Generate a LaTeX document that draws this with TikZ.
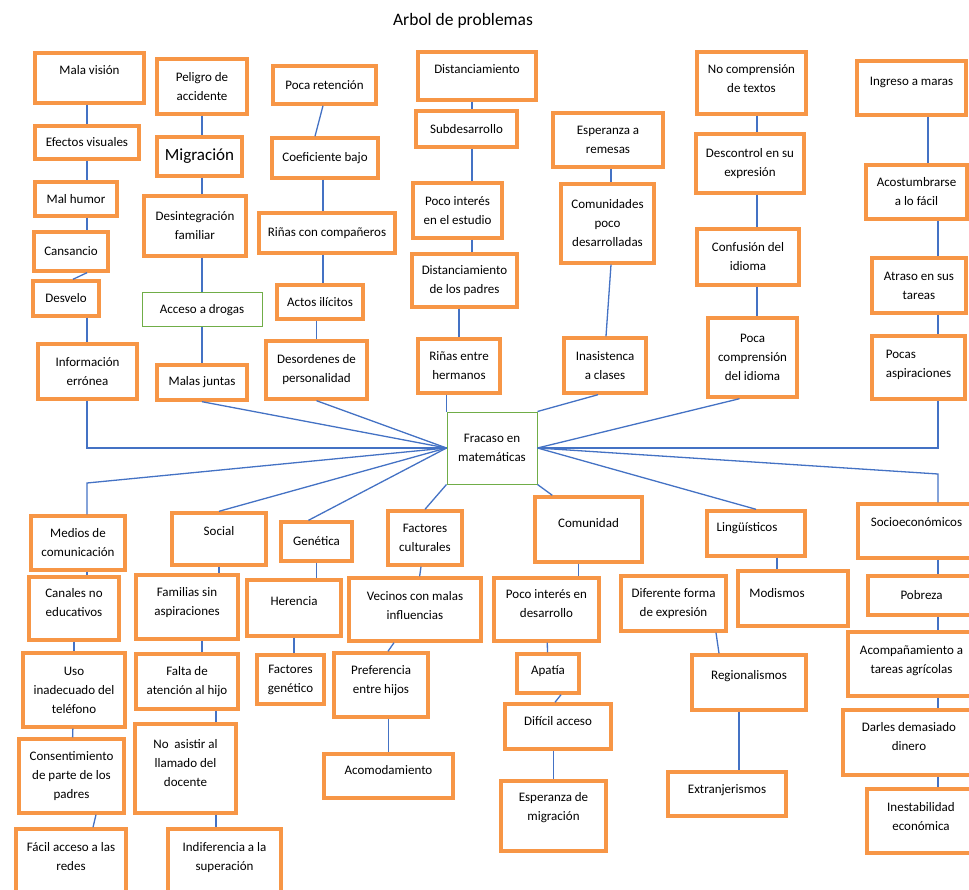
\documentclass[tikz,border=0pt]{standalone}
\usepackage{fontspec}
\setmainfont{Carlito}
\definecolor{naranja}{RGB}{247,150,70}
\definecolor{azul}{RGB}{68,114,196}
\definecolor{verdeb}{RGB}{112,173,71}
% caja[opciones]{nombre}{x1}{y1}{x2}{y2}{texto}
\newcommand{\caja}[7][]{\node[caja,minimum width={#5-#3},minimum height={#6-#4},#1] (#2) at ({(#3+#5)/2},{(#4+#6)/2}) {#7};}
\newcommand{\bajo}[1]{\\[#1]\mbox{}}

\begin{document}
\begin{tikzpicture}[x=1pt,y=-1pt,
    caja/.style={draw=naranja,line width=3.4pt,fill=white,inner sep=1pt,align=center,
      font=\fontsize{13}{19}\selectfont},
    verde/.style={draw=verdeb,line width=1pt},
    linea/.style={draw=azul,line width=1.3pt}]
\useasboundingbox (0,0) rectangle (969,890);
\clip (0,0) rectangle (969,890);

\node[font=\fontsize{17.5}{20}\selectfont] (titulo) at (463,21) {Arbol de problemas};

% ejes de las columnas
\coordinate (ejeA) at (87,0);
\coordinate (ejeB) at (202,0);
\coordinate (ejeC) at (323,0);
\coordinate (ejeD) at (472,0);
\coordinate (ejeE) at (611,0);
\coordinate (ejeF) at (757,0);
\coordinate (ejeG) at (938,0);
\coordinate (ejeH) at (216,0);

% arriba
\caja{mala}{35}{53}{144}{103}{Mala visión\bajo{-3pt}}
\caja{efectos}{35}{126}{139}{159}{Efectos visuales}
\caja{malhumor}{35}{182}{117}{216}{Mal humor}
\caja{cansancio}{34}{232}{108}{271}{Cansancio}
\caja{desvelo}{33}{281}{99}{316}{Desvelo}
\caja{info}{38}{344}{137}{399}{Información\\errónea}

\caja{peligro}{157}{59}{247}{114}{Peligro de\\accidente}
\caja[font=\fontsize{17}{20}\selectfont]{migracion}{157}{137}{242}{176}{Migración}
\caja{desint}{144}{196}{246}{256}{Desintegración\\familiar}
\caja[verde]{drogas}{142}{293}{262}{327}{Acceso a drogas}
\caja{malas}{157}{365}{247}{400}{Malas juntas}

\caja{retencion}{273}{66}{376}{104}{Poca retención}
\caja{coef}{272}{138}{378}{178}{Coeficiente bajo}
\caja{rinasc}{259}{213}{395}{253}{Riñas con compañeros}
\caja{actos}{277}{285}{363}{319}{Actos ilícitos}
\caja{desord}{266}{341}{367}{399}{Desordenes de\\personalidad}

\caja{distan}{418}{52}{536}{100}{Distanciamiento\bajo{-5pt}}
\caja{subdes}{416}{111}{517}{147}{Subdesarrollo}
\caja{interes}{413}{183}{502}{238}{Poco interés\\en el estudio}
\caja{padres}{412}{254}{517}{307}{Distanciamiento\\de los padres}
\caja{rinash}{418}{339}{500}{393}{Riñas entre\\hermanos}

\caja{remesas}{553}{113}{663}{167}{Esperanza a\\remesas}
\caja{comun}{561}{184}{654}{263}{Comunidades\\poco\\desarrolladas}
\caja{inasist}{564}{338}{646}{393}{Inasistenca\\a clases}

\caja{textos}{697}{52}{806}{114}{No comprensión\\de textos\bajo{-11pt}}
\caja{descontrol}{696}{134}{804}{193}{Descontrol en su\\expresión}
\caja{confusion}{697}{229}{799}{285}{Confusión del\\idioma}
\caja{pocacomp}{708}{318}{797}{397}{Poca\\comprensión\\del idioma}

\caja{maras}{857}{61}{966}{115}{Ingreso a maras\bajo{-5pt}}
\caja{acost}{866}{165}{967}{219}{Acostumbrarse\\a lo fácil}
\caja{atraso}{872}{258}{966}{313}{Atraso en sus\\tareas}
\caja[align=left]{pocas}{872}{336}{965}{399}{Pocas\\aspiraciones\bajo{-11pt}}

\caja[verde]{fracaso}{447}{412}{537}{484}{Fracaso en\\matemáticas}

% abajo
\caja{medios}{31}{516}{125}{570}{Medios de\\comunicación}
\caja{canales}{29}{577}{119}{640}{Canales no\\educativos\bajo{-7pt}}
\caja{uso}{23}{653}{125}{727}{Uso\\inadecuado del\\teléfono}
\caja{consent}{19}{739}{124}{813}{Consentimiento\\de parte de los\\padres}
\caja{facil}{16}{829}{126}{900}{Fácil acceso a las\\redes\bajo{-2pt}}

\caja{social}{172}{513}{266}{565}{Social\bajo{-3pt}}
\caja{familias}{136}{575}{238}{639}{Familias sin\\aspiraciones\bajo{-7pt}}
\caja{falta}{136}{654}{238}{709}{Falta de\\atención al hijo}
\caja{noasistir}{135}{724}{236}{813}{No~ asistir al\\llamado del\\docente\bajo{-7pt}}
\caja{indif}{168}{829}{281}{900}{Indiferencia a la\\superación\bajo{-2pt}}

\caja{genetica}{281}{522}{352}{561}{Genética}
\caja{herencia}{247}{580}{341}{636}{Herencia\bajo{-5pt}}
\caja{factgen}{257}{655}{324}{704}{Factores\\genético}

\caja{cultural}{388}{511}{462}{565}{Factores\\culturales}
\caja{vecinos}{349}{578}{481}{641}{Vecinos con malas\\influencias\bajo{-11pt}}
\caja{prefer}{334}{653}{428}{717}{Preferencia\\entre hijos\bajo{-9pt}}
\caja{acomod}{324}{754}{453}{798}{Acomodamiento\bajo{-7pt}}

\caja{comunidad}{535}{497}{642}{562}{Comunidad\bajo{-5pt}}
\caja{desarrollo}{494}{578}{599}{641}{Poco interés en\\desarrollo\bajo{-7pt}}
\caja{apatia}{517}{654}{579}{693}{Apatía\bajo{-13pt}}
\caja{dificil}{505}{704}{611}{749}{Difícil acceso\bajo{-7pt}}
\caja{migrac}{501}{781}{606}{851}{Esperanza de\\migración\bajo{1pt}}

\caja{ling}{707}{511}{805}{556}{Lingüísticos\hspace*{18pt}\bajo{-7pt}}
\caja{modismos}{738}{571}{848}{626}{Modismos\hspace*{32pt}\bajo{-7pt}}
\caja{diferente}{621}{576}{726}{631}{Diferente forma\\de expresión}
\caja{regional}{692}{655}{806}{710}{Regionalismos\bajo{-3pt}}
\caja{extranj}{668}{772}{786}{816}{Extranjerismos\bajo{-9pt}}

\caja{socio}{858}{504}{975}{558}{Socioeconómicos\bajo{-1pt}}
\caja{pobreza}{868}{576}{975}{615}{Pobreza}
\caja{acomp}{848}{632}{975}{696}{Acompañamiento a\\tareas agrícolas\bajo{-11pt}}
\caja{darles}{843}{710}{975}{775}{Darles demasiado\\dinero\bajo{-7pt}}
\caja{inestab}{867}{789}{975}{853}{Inestabilidad\\económica\bajo{-9pt}}

\coordinate (codoM) at (87,483);
\coordinate (codoS) at (938,474);

% ramas de arriba
\draw[linea] (mala.south -| ejeA) -- (efectos.north -| ejeA);
\draw[linea] (efectos.south -| ejeA) -- (malhumor.north -| ejeA);
\draw[linea] (malhumor.south -| ejeA) -- (cansancio.north -| ejeA);
\draw[linea] ([xshift=16]cansancio.south) -- ([xshift=7]desvelo.north);
\draw[linea] (desvelo.south -| ejeA) -- (info.north -| ejeA);

\draw[linea] (peligro.south -| ejeB) -- (migracion.north -| ejeB);
\draw[linea] (migracion.south -| ejeB) -- (desint.north -| ejeB);
\draw[linea] (desint.south -| ejeB) -- (drogas.north -| ejeB);
\draw[linea] (drogas.south -| ejeB) -- (malas.north -| ejeB);

\draw[linea] ([xshift=-1.5]retencion.south) -- ([xshift=-10]coef.north);
\draw[linea] (coef.south -| ejeC) -- (rinasc.north -| ejeC);
\draw[linea] (rinasc.south -| ejeC) -- (actos.north -| ejeC);
\draw[linea] (actos.south -| desord) -- (desord.north);

\draw[linea] (distan.south -| ejeD) -- (subdes.north -| ejeD);
\draw[linea] (subdes.south -| ejeD) -- (interes.north -| ejeD);
\draw[linea] (interes.south -| ejeD) -- (padres.north -| ejeD);
\draw[linea] (padres.south -| rinash) -- (rinash.north);

\draw[linea] (remesas.south -| ejeE) -- (comun.north -| ejeE);
\draw[linea] (comun.south -| ejeE) -- ([xshift=1]inasist.north);

\draw[linea] (textos.south -| ejeF) -- (descontrol.north -| ejeF);
\draw[linea] (descontrol.south -| ejeF) -- (confusion.north -| ejeF);
\draw[linea] (confusion.south -| ejeF) -- (pocacomp.north -| ejeF);

\draw[linea] ([xshift=16.5]maras.south) -- ([xshift=16.5]maras.south |- acost.north);
\draw[linea] (acost.south -| ejeG) -- (atraso.north -| ejeG);
\draw[linea] (atraso.south -| ejeG) -- (pocas.north -| ejeG);

% al problema central
\draw[linea] (info.south -| ejeA) |- (fracaso.west);
\draw[linea] (malas.south) -- (fracaso.west);
\draw[linea] (desord.south) -- (fracaso.west);
\draw[linea] (rinash.south -| fracaso.north west) -- (fracaso.north west);
\draw[linea] ([xshift=-7]inasist.south) -- (fracaso.north east);
\draw[linea] ([xshift=-13]pocacomp.south) -- (fracaso.east);
\draw[linea] (pocas.south -| ejeG) |- (fracaso.east);

\draw[linea] (fracaso.west) -- (codoM) -- (codoM |- medios.north);
\draw[linea] (fracaso.west) -- (social.north);
\draw[linea] (fracaso.west) -- ([xshift=-8]genetica.north);
\draw[linea] (fracaso.south west) -- (cultural.north);
\draw[linea] (fracaso.south east) -- ([xshift=19]comunidad.north west);
\draw[linea] (fracaso.east) -- (ling.north);
\draw[linea] (fracaso.east) -- (codoS) -- (codoS |- socio.north);

% ramas de abajo
\draw[linea] (medios.south -| ejeA) -- (canales.north -| ejeA);
\draw[linea] (canales) -- (uso);
\draw[linea] (uso) -- (consent);
\draw[linea] ([xshift=24.5]consent.south) -- ([xshift=22]facil.north);

\draw[linea] (social.south) -- (social.south |- familias.north);
\draw[linea] (familias.south -| ejeB) -- (falta.north -| ejeB);
\draw[linea] (falta.south -| ejeH) -- (noasistir.north -| ejeH);
\draw[linea] (noasistir.south -| ejeH) -- (indif.north -| ejeH);

\draw[linea] (genetica.south) -- (genetica.south |- herencia.north);
\draw[linea] (herencia.south) -- (herencia.south |- factgen.north);

\draw[linea] (cultural) -- (vecinos);
\draw[linea] ([xshift=-21]vecinos.south) -- ([xshift=7]prefer.north);
\draw[linea] (prefer.south -| acomod) -- (acomod.north);

\draw[linea] ([xshift=-10]comunidad.south) -- ([xshift=-10]comunidad.south |- desarrollo.north);
\draw[linea] (desarrollo) -- (apatia);
\draw[linea] ([xshift=13]apatia.south) -- ([xshift=-3]dificil.north);
\draw[linea] (dificil.south -| migrac) -- (migrac.north);

\draw[linea] ([xshift=-16]modismos.north |- ling.south) -- ([xshift=-16]modismos.north);
\draw[linea] ([xshift=42.5]diferente.south) -- ([xshift=-30]regional.north);
\draw[linea] ([xshift=-10]regional.south) -- ([xshift=-10]regional.south |- extranj.north);

\draw[linea] (socio.south -| ejeG) -- (pobreza.north -| ejeG);
\draw[linea] (pobreza.south -| ejeG) -- (acomp.north -| ejeG);
\draw[linea] (acomp.south -| ejeG) -- (darles.north -| ejeG);
\draw[linea] (darles.south -| ejeG) -- (inestab.north -| ejeG);
\end{tikzpicture}
\end{document}
